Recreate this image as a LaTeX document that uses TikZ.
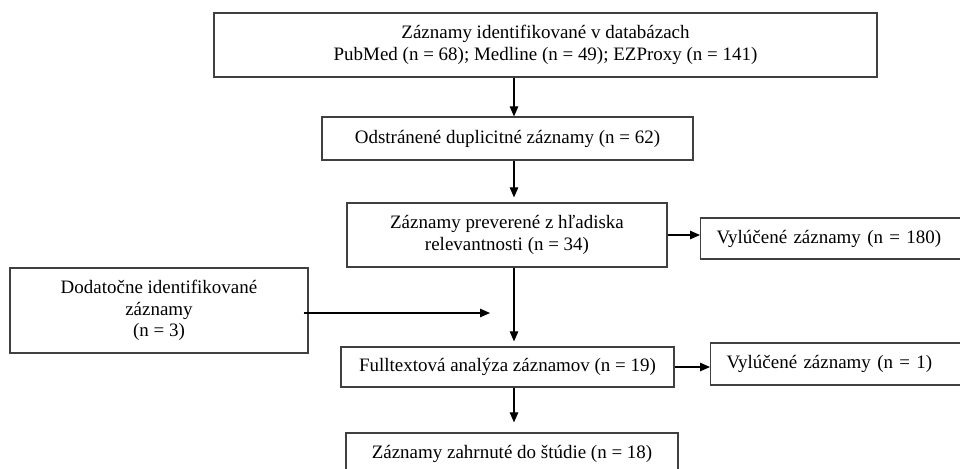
\documentclass[tikz,border=0pt]{standalone}
\usepackage{fontspec}
\setmainfont{Liberation Serif}
\usetikzlibrary{arrows.meta}

\tikzset{
  box/.style={draw=black!75, line width=0.7pt, align=center, inner sep=0pt},
  sidebox/.style={box, align=left, anchor=west, inner xsep=0.32cm, text width=8cm},
  arr/.style={-{Triangle[length=0.2cm,width=0.17cm]}, line width=0.6pt}
}

\begin{document}
\begin{tikzpicture}[x=0.02cm, y=-0.02cm, font=\fontsize{10.8}{12.3}\selectfont]
\useasboundingbox (0,0) rectangle (960,468);
%\draw [help lines] (0,0) grid [step=50] (960,468);
\node [box, minimum width=13.26cm, minimum height=1.28cm] (ident) at (545.5,45) {Záznamy identifikované v databázach\\PubMed (n = 68); Medline (n = 49); EZProxy (n = 141)};
\node [box, minimum width=7.42cm, minimum height=0.86cm] (dup) at (507.5,138.5) {Odstránené duplicitné záznamy (n = 62)};
\node [box, minimum width=6.4cm, minimum height=1.28cm] (screen) at (507,235) {Záznamy preverené z hľadiska\\relevantnosti (n = 34)};
\node [sidebox, minimum height=0.82cm] (excl1) at (700,238.5) {Vylúčené záznamy (n = 180)};
\node [box, minimum width=5.96cm, minimum height=1.7cm] (extra) at (159,310.5) {Dodatočne identifikované\\záznamy\\(n = 3)};
\node [box, minimum width=6.66cm, minimum height=0.8cm] (full) at (507.5,367) {Fulltextová analýza záznamov (n = 19)};
\node [sidebox, minimum height=0.84cm] (excl2) at (710,364) {Vylúčené záznamy (n = 1)};
\node [box, minimum width=6.64cm, minimum height=0.84cm] (incl) at (512,454) {Záznamy zahrnuté do štúdie (n = 18)};
\coordinate (axis) at (514,0);
\coordinate (join) at (490,313);
\draw [arr] (ident.south -| axis) -- (dup.north -| axis);
\draw [arr, shorten >=0.1cm] (dup.south -| axis) -- (screen.north -| axis);
\draw [arr, shorten >=0.1cm] (screen.south -| axis) -- (full.north -| axis);
\draw [arr, shorten >=0.2cm] (full.south -| axis) -- (incl.north -| axis);
\draw [arr] (screen.east) -- (screen.east -| excl1.west);
\draw [arr] (full.east) -- (full.east -| excl2.west);
\draw [arr, shorten <=-0.1cm] (extra.east |- join) -- (join);
\end{tikzpicture}
\end{document}
